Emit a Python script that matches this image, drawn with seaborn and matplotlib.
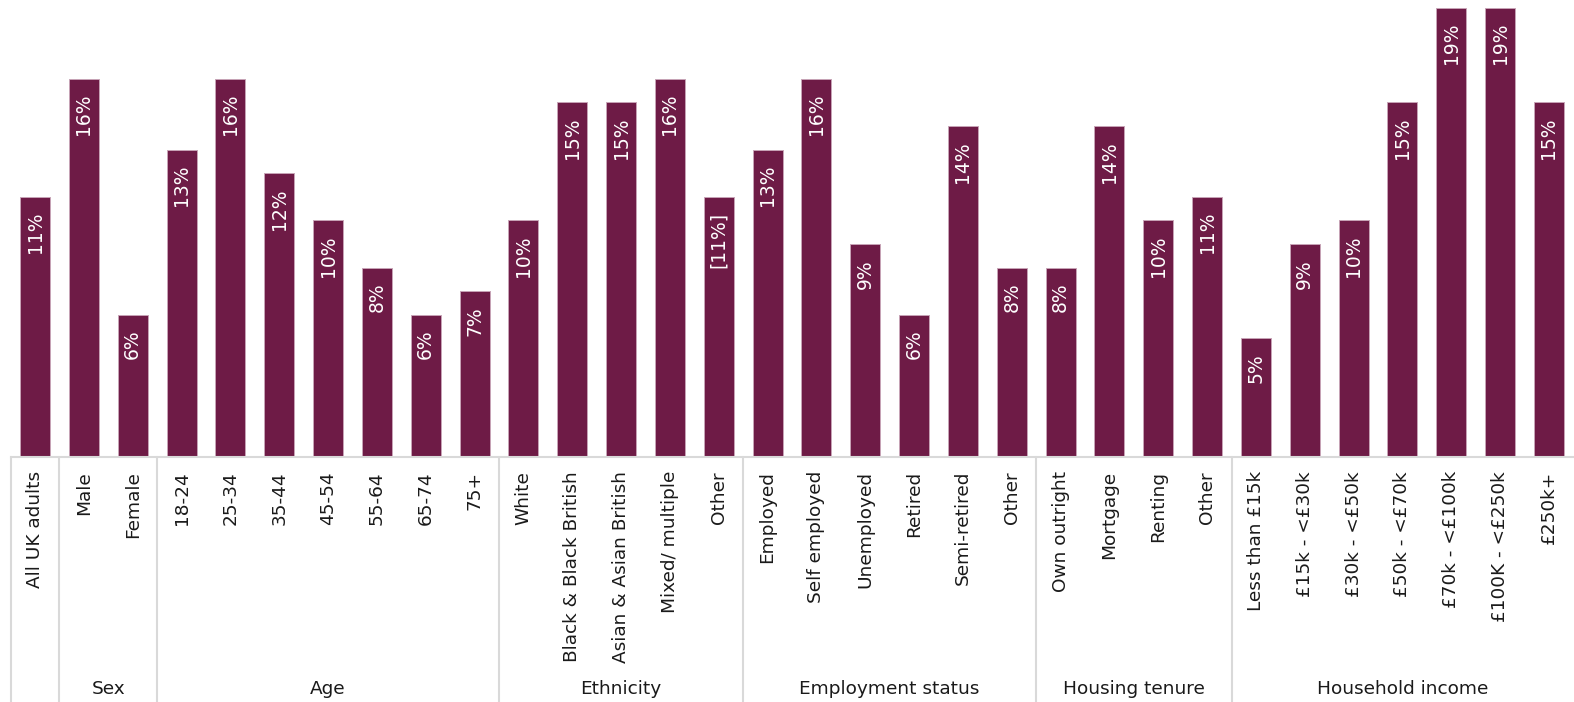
import matplotlib
matplotlib.use("Agg")
import matplotlib.pyplot as plt
import seaborn as sns
import pandas as pd

sns.set_theme(style="white")
plt.rcParams["font.family"] = ["DejaVu Sans"]

categories = [
    "All UK adults",
    "Male", "Female",
    "18-24", "25-34", "35-44", "45-54", "55-64", "65-74", "75+",
    "White", "Black & Black British", "Asian & Asian British", "Mixed/ multiple", "Other",
    "Employed", "Self employed", "Unemployed", "Retired", "Semi-retired", "Other ",
    "Own outright", "Mortgage", "Renting", "Other  ",
    "Less than £15k", "£15k - <£30k", "£30k - <£50k", "£50k - <£70k",
    "£70k - <£100k", "£100K - <£250k", "£250k+",
]
values = [
    11,
    16, 6,
    13, 16, 12, 10, 8, 6, 7,
    10, 15, 15, 16, 11,
    13, 16, 9, 6, 14, 8,
    8, 14, 10, 11,
    5, 9, 10, 15, 19, 19, 15,
]
# indices of bars whose value label is shown in brackets (low base)
bracketed = [14]

groups = ["", "Sex", "Age", "Ethnicity", "Employment status", "Housing tenure", "Household income"]
group_sizes = [1, 2, 7, 5, 6, 4, 7]

df = pd.DataFrame({"category": categories, "value": values})

W, H = 1574, 702
fig = plt.figure(figsize=(W / 100, H / 100), dpi=100)
ax_left, ax_right = 10.6, 1573.4
ax_top, ax_bottom = 8.0, 456.5
ax = fig.add_axes([ax_left / W, 1 - ax_bottom / H,
                   (ax_right - ax_left) / W, (ax_bottom - ax_top) / H])

bar_color = "#6e1b46"
sns.barplot(data=df, x="category", y="value", ax=ax, color=bar_color,
            saturation=1, width=0.615, edgecolor="#c7a3b6", linewidth=0.7)

ax.set_xlim(-0.5, len(categories) - 0.5)
ax.set_ylim(0, 19)
ax.set_xlabel("")
ax.set_ylabel("")
ax.set_yticks([])
for s in ["top", "right", "left"]:
    ax.spines[s].set_visible(False)
ax.spines["bottom"].set_color("#d9d9d9")
ax.spines["bottom"].set_linewidth(1.5)

text_color = "#1a1a1a"
ax.set_xticks(range(len(categories)))
ax.set_xticklabels([c.strip() for c in categories], rotation=90, fontsize=13.3,
                   va="top", ha="center", color=text_color)
ax.tick_params(axis="x", length=0, pad=10.5)

# value labels inside the bars
for i, v in enumerate(values):
    txt = f"{v}%"
    if i in bracketed:
        txt = f"[{txt}]"
    ax.annotate(txt, xy=(i, v), xytext=(0, -15), textcoords="offset pixels",
                rotation=90, ha="center", va="top", color="white", fontsize=13.5)

# group separators and group labels below the axis
axes_h = ax_bottom - ax_top
sep_bottom = -(H - ax_bottom) / axes_h
label_y = (ax_bottom - 689) / axes_h
trans = ax.get_xaxis_transform()
start = 0
for g, n in zip(groups, group_sizes):
    ax.plot([start - 0.5, start - 0.5], [0, sep_bottom], transform=trans,
            color="#d9d9d9", lw=1.5, clip_on=False)
    if g:
        ax.text(start + (n - 1) / 2, label_y, g, transform=trans, ha="center",
                va="center", fontsize=13.3, color=text_color)
    start += n

fig.savefig("out.png", dpi=100)
